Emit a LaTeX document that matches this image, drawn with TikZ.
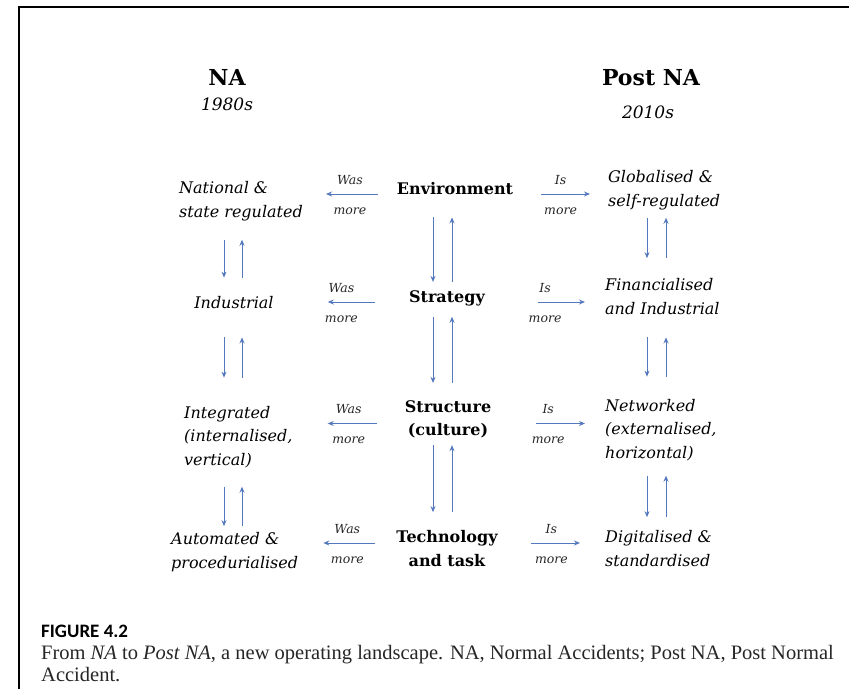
\documentclass[tikz,border=0pt]{standalone}
\usepackage{fontspec}
\setmainfont{DejaVu Serif}
\newfontfamily\captionfont{Liberation Serif}
\newfontfamily\figurefont{Carlito}
\usepackage{tikz}
\usetikzlibrary{calc,positioning,arrows.meta}
\definecolor{flowblue}{RGB}{84,120,190}
\tikzset{
	>={Stealth[length=6pt,width=5pt]},
	heading/.style={font=\bfseries\fontsize{22}{26}\selectfont, anchor=base, inner sep=0pt},
	decade/.style={font=\itshape\fontsize{17}{20}\selectfont, anchor=base, inner sep=0pt},
	factor/.style={
		font=\bfseries\fontsize{16}{23.5}\selectfont,
		align=center,
		anchor=base,
		inner sep=0pt},
	state/.style={
		font=\itshape\fontsize{16}{23.5}\selectfont,
		align=left,
		anchor=base west,
		inner sep=0pt},
	flow/.style={draw=flowblue, line width=0.9pt, ->},
	tag/.style={font=\itshape\fontsize{12.5}{14}\selectfont, inner sep=0pt, text=black!85},
}

\begin{document}
\begin{tikzpicture}[x=1pt, y=-1pt]
	\useasboundingbox (0,0) rectangle (849,689);
	\draw[line width=2.5pt] (19,689) -- (19,7) -- (849,7);

	% headings
	\node[heading] (na) at (227,85) {NA};
	\node[decade] (y80) at (227,110) {1980s};
	\node[heading] (postna) at (651,85) {Post NA};
	\node[decade] (y10) at (648,118) {2010s};

	% middle column (base = last line)
	\node[factor] (env) at (455,194) {Environment};
	\node[factor] (strat) at (447,302) {Strategy};
	\node[factor] (struct) at (448,435.5) {Structure\\(culture)};
	\node[factor] (tech) at (447,566) {Technology\\and task};

	% NA column
	\node[state] (nat) at (179,217) {National \&\\state regulated};
	\node[state, anchor=base] (ind) at (234,308) {Industrial};
	\node[state] (integ) at (184,465) {Integrated\\(internalised,\\vertical)};
	\node[state] (auto) at (171,568) {Automated \&\\procedurialised};

	% Post NA column
	\node[state] (glob) at (608,206) {Globalised \&\\self-regulated};
	\node[state] (fin) at (605,314) {Financialised\\and Industrial};
	\node[state] (net) at (605,458) {Networked\\(externalised,\\horizontal)};
	\node[state] (dig) at (605,566) {Digitalised \&\\standardised};

	% was more / is more
	\coordinate (structL) at ([yshift=12pt]struct.base west);
	\coordinate (structR) at ([yshift=12pt]struct.base east);
	\coordinate (techL) at ([yshift=23pt]tech.base west);
	\coordinate (techR) at ([yshift=23pt]tech.base east);
	\foreach \c/\s/\cl/\sl in {env.base west/nat/19pt/23pt, strat.base west/ind/34pt/54pt,
		structL/integ/28pt/35pt, techL/auto/21pt/25pt}
		\draw[flow, shorten <=\cl, shorten >=\sl] (\c) -- (\c -| \s.east)
			node[tag, midway, above=9pt] {Was} node[tag, midway, below=13pt] {more};
	\foreach \c/\s/\cl/\sl in {env.base east/glob/28pt/18pt, strat.base east/fin/53pt/20pt,
		structR/net/45pt/20pt, techR/dig/33pt/25pt}
		\draw[flow, shorten <=\cl, shorten >=\sl] (\c) -- (\c -| \s.west)
			node[tag, midway, above=9pt] {Is} node[tag, midway, below=13pt] {more};

	% links down and up
	\foreach \a/\b/\xd/\xu/\ga/\gb in {
		env/strat/433/452/23pt/8pt, strat/struct/433/452/11pt/17pt, struct/tech/433/452/7pt/18pt,
		nat/ind/224/242/19pt/18pt, ind/integ/224/242/29pt/28pt, integ/auto/224/242/19pt/6pt,
		glob/fin/647/666/8pt/20pt, fin/net/647/666/23pt/22pt, net/dig/647/666/15pt/13pt}
	{
		\draw[flow, shorten <=\ga, shorten >=\gb] (\a.south -| \xd,0) -- (\b.north -| \xd,0);
		\draw[flow, shorten <=\gb, shorten >=\ga] (\b.north -| \xu,0) -- (\a.south -| \xu,0);
	}

	% caption
	\node[anchor=base west, inner sep=0pt, font=\figurefont\bfseries\fontsize{19}{22}\selectfont] (figno) at (41,637) {FIGURE 4.2};
	\node[anchor=base west, inner sep=0pt, align=left, text=black!85,
		font=\captionfont\fontsize{20.5}{22}\selectfont] (caption) at (41,681)
		{From \textit{NA} to \textit{Post NA}, a new operating landscape. NA, Normal Accidents; Post NA, Post Normal\\Accident.};
\end{tikzpicture}
\end{document}
